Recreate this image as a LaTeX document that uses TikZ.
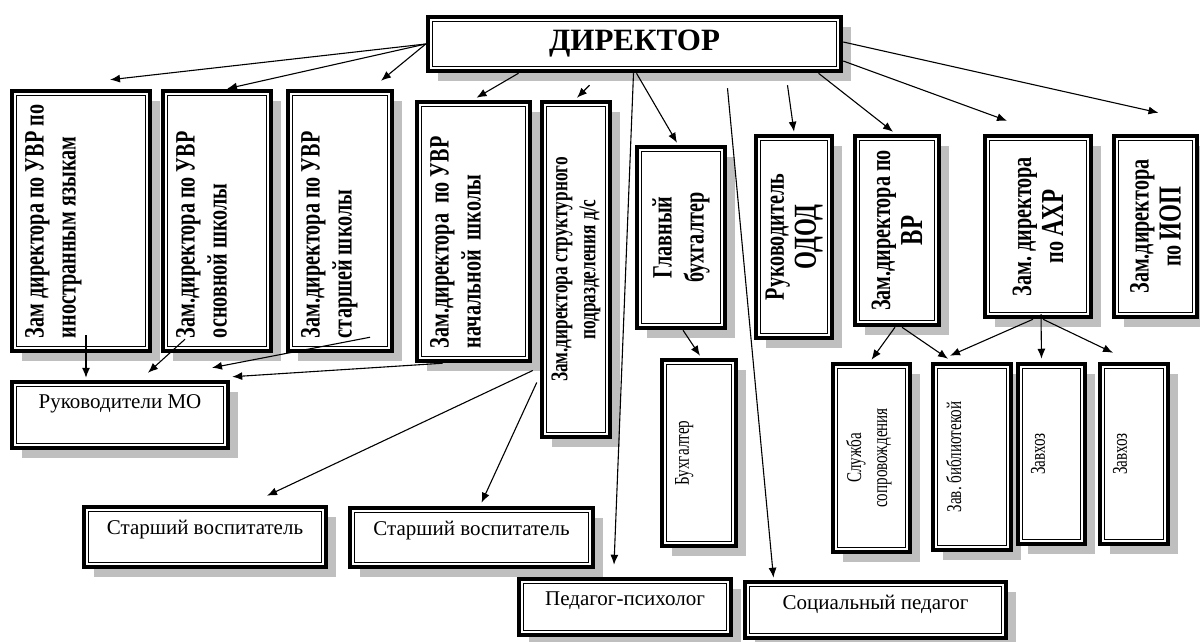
\documentclass[tikz,border=0pt]{standalone}
\usepackage{fontspec}
\setmainfont{Liberation Serif}[BoldFont={Liberation Serif Bold}]
\newfontfamily\tallfont{Liberation Serif}[FakeStretch=0.72, BoldFont={Liberation Serif Bold}]
\usepackage{graphicx}
\usetikzlibrary{arrows.meta}
\usetikzlibrary{shadows}

\newcommand{\uptext}[4][t]{\rotatebox{90}{\parbox[c][#3][#1]{#2}{#4}}}
\newcommand{\flattext}[3]{\parbox[c][#2][t]{#1}{\centering #3}}

\tikzset{
    frame/.style={draw, line width=2.25pt, fill=white, inner sep=6.5pt,
        path picture={\draw[line width=0.6pt] ([shift={(2.3pt,-2.3pt)}]path picture bounding box.north west) rectangle ([shift={(-2.3pt,2.3pt)}]path picture bounding box.south east);},
        drop shadow={shadow xshift=5pt, shadow yshift=-5pt, fill=black!25, opacity=1}},
    boss/.style={frame, font=\tallfont\bfseries\fontsize{14}{16}\selectfont},
    staff/.style={frame, font=\tallfont\fontsize{10.5}{13}\selectfont},
    unit/.style={frame, font=\fontsize{10.5}{13}\selectfont},
    link/.style={-{Latex[length=5pt,width=4pt]}, line width=0.55pt}
}

\begin{document}
\begin{tikzpicture}[x=0.5pt, y=-0.5pt]
    \useasboundingbox (0,0) rectangle (1200,642);

    % Director
    \node[frame, minimum width=206.5pt, minimum height=27pt, inner sep=0pt,
          font=\bfseries\fontsize{15.5}{18}\selectfont] (dir) at (634.5,44) {ДИРЕКТОР};

    % Deputies
    \node[boss] (zlang) at (81,221) {\uptext{117pt}{56pt}{\raggedright Зам~директора~по~УВР~по\\иностранным~языкам}};
    \node[boss] (zmain) at (217,221) {\uptext{117pt}{41pt}{\raggedright Зам.директора~по~УВР\\основной~школы}};
    \node[boss] (zsenior) at (340,221) {\uptext{117pt}{39pt}{\raggedright Зам.директора~по~УВР\\старшей~школы}};
    \node[boss] (zprim) at (473.5,231.5) {\uptext{116.5pt}{43.5pt}{\raggedright Зам.директора~~по~УВР\\начальной~~школы}};
    \node[boss, font=\tallfont\bfseries\fontsize{12}{14}\selectfont] (zkinder) at (576,269.5)
        {\uptext[c]{154.5pt}{21pt}{\centering Зам.директора~структурного\\подразделения~д/с}};
    \node[boss] (chiefacc) at (681,237.5) {\uptext[c]{77.5pt}{31pt}{\centering Главный\\бухгалтер}};
    \node[boss] (odod) at (794,237) {\uptext[c]{88pt}{25pt}{\centering Руководитель\\{\fontsize{16}{17}\selectfont ОДОД}}};
    \node[boss] (zvr) at (897,230.5) {\uptext[c]{81.5pt}{29pt}{\centering Зам.директора~по\\{\fontsize{16}{17}\selectfont ВР}}};
    \node[boss] (zahr) at (1038,226.5) {\uptext[c]{77.5pt}{40pt}{\centering Зам.~директора\\по~{\fontsize{16}{17}\selectfont АХР}}};
    \node[boss] (ziop) at (1155.5,226.5) {\uptext[c]{77.5pt}{28.5pt}{\centering Зам.директора\\по~{\fontsize{16}{17}\selectfont ИОП}}};

    % Staff
    \node[unit] (mo) at (120,415) {\flattext{95pt}{20pt}{Руководители МО}};
    \node[unit] (senior1) at (205,537) {\flattext{108pt}{17pt}{Старший воспитатель}};
    \node[unit] (senior2) at (471.5,537.5) {\flattext{108.5pt}{16.5pt}{Старший воспитатель}};
    \node[unit] (psych) at (625,607) {\flattext{93pt}{15pt}{Педагог-психолог}};
    \node[unit] (social) at (875.5,610) {\flattext{117.5pt}{15pt}{Социальный педагог}};
    \node[staff] (acc) at (699,453) {\uptext{80pt}{24pt}{\centering Бухгалтер}};
    \node[staff] (escort) at (871.5,458) {\uptext{81pt}{25.5pt}{\centering Служба\\сопровождения}};
    \node[staff] (library) at (972,457) {\uptext{80pt}{26pt}{\centering Зав.~библиотекой}};
    \node[staff] (keeper1) at (1051.5,454) {\uptext{77pt}{20.5pt}{\centering Завхоз}};
    \node[staff] (keeper2) at (1134,454) {\uptext{77pt}{21pt}{\centering Завхоз}};

    % From director
    \draw[link] (dir.west) -- ([shift={(29,-9)}]zlang.north);
    \draw[link] (dir.west) -- ([shift={(10,0)}]zmain.north);
    \draw[link] (dir.west) -- ([shift={(41,-8)}]zsenior.north);
    \draw[link] ([shift={(-116,0)}]dir.south) -- ([shift={(3,-2)}]zprim.north);
    \draw[link] ([shift={(-45,12)}]dir.south) -- ([shift={(1,-2)}]zkinder.north);
    \draw[link] ([shift={(-1,0)}]dir.south) -- ([shift={(-11,-12)}]psych.north);
    \draw[link] ([shift={(2,0)}]dir.south) -- ([shift={(-4,-2)}]chiefacc.north);
    \draw[link] ([shift={(93,15)}]dir.south) -- ([shift={(-102,-2)}]social.north);
    \draw[link] ([shift={(153,12)}]dir.south) -- ([shift={(0,-2)}]odod.north);
    \draw[link] ([shift={(184,0)}]dir.south) -- ([shift={(-4,-2)}]zvr.north);
    \draw[link] ([shift={(0,17)}]dir.east) -- ([shift={(-31,-13)}]zahr.north);
    \draw[link] ([shift={(0,-2)}]dir.east) -- ([shift={(3,-21)}]ziop.north);

    % To MO
    \draw[link] ([shift={(5,-18)}]zlang.south) -- ([shift={(-34,-2)}]mo.north);
    \draw[link] ([shift={(-32,-14)}]zmain.south) -- ([shift={(28,-7)}]mo.north);
    \draw[link] ([shift={(30,-16)}]zsenior.south) -- ([shift={(92,-12)}]mo.north);
    \draw[link] ([shift={(-31,0)}]zprim.south) -- ([shift={(2,-3)}]mo.north east);

    % Kindergarten
    \draw[link] ([shift={(-7,101)}]zkinder.west) -- ([shift={(62,-9)}]senior1.north);
    \draw[link] ([shift={(-3,113)}]zkinder.west) -- ([shift={(10,-3)}]senior2.north);

    % Lower level
    \draw[link] ([shift={(2,0)}]chiefacc.south) -- ([shift={(1,-2)}]acc.north);
    \draw[link] ([shift={(-2,0)}]zvr.south) -- ([shift={(0,-2)}]escort.north);
    \draw[link] ([shift={(5,0)}]zvr.south) -- ([shift={(-24,-3)}]library.north);
    \draw[link] ([shift={(-5,0)}]zahr.south) -- ([shift={(-22,-6)}]library.north);
    \draw[link] ([shift={(3,-5)}]zahr.south) -- ([shift={(-10,-3)}]keeper1.north);
    \draw[link] ([shift={(5,0)}]zahr.south) -- ([shift={(-21,-9)}]keeper2.north);
\end{tikzpicture}
\end{document}
